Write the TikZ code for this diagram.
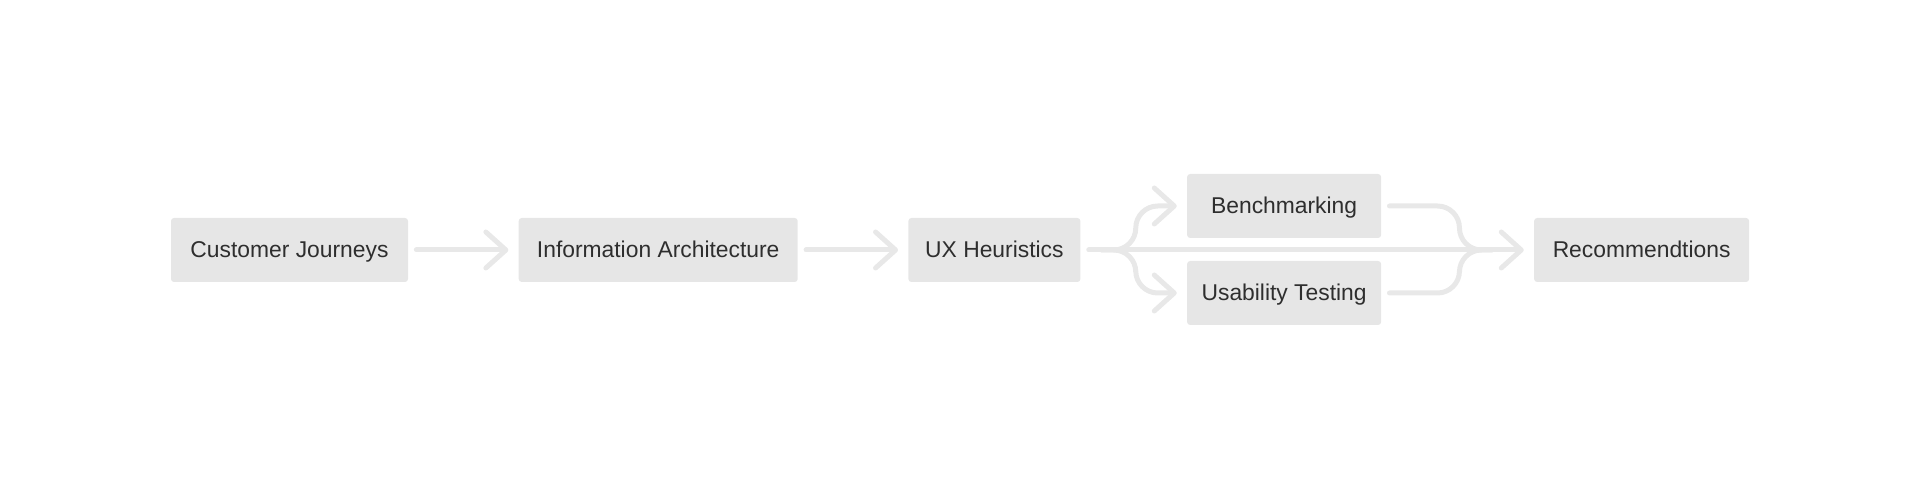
\documentclass[tikz,border=0pt]{standalone}
\usepackage{fontspec}
\setmainfont{Liberation Sans}
\usepackage{tikz}
\usetikzlibrary{arrows.meta, positioning}
\usepackage{xcolor}
\definecolor{boxgray}{HTML}{E6E6E6}
\definecolor{linegray}{HTML}{E8E8E8}
\definecolor{textgray}{HTML}{2E2E2E}

\begin{document}
\begin{tikzpicture}[every node/.style={font=\fontsize{13}{15}\selectfont},
  box/.style={fill=boxgray, rounded corners=0.06cm, text=textgray, minimum height=1.28cm, inner xsep=0pt, text height=0.35cm, text depth=0.06cm},
  link/.style={draw=linegray, line width=0.1cm, line cap=round, line join=round, shorten <=0.16cm},
  arrow/.style={link, -{Straight Barb[length=0.4cm, width=0.72cm, line cap=round, line join=round]}, shorten >=0.2cm}]
\useasboundingbox (0,0) rectangle (38.4,9.96);
\node[box, minimum width=4.74cm] (cj) at (5.79,4.96) {Customer Journeys};
\node[box, minimum width=5.58cm, right=2.2cm of cj] (ia) {Information Architecture};
\node[box, minimum width=3.44cm, right=2.2cm of ia] (ux) {UX Heuristics};
\node[box, minimum width=3.88cm, right=2.12cm of ux, yshift=0.88cm] (bench) {Benchmarking};
\node[box, minimum width=3.88cm, right=2.12cm of ux, yshift=-0.86cm] (usab) {Usability Testing};
\node[box, minimum width=4.3cm, right=9.06cm of ux] (rec) {Recommendtions};
\coordinate[right=0.42cm of ux] (split);
\coordinate[left=0.84cm of rec] (join);
\draw[arrow] (cj) -- (ia);
\draw[arrow] (ia) -- (ux);
\draw[arrow] (ux) -- (rec);
\draw[arrow, rounded corners=0.44cm, shorten <=0pt] (split) -- ++(0.68cm,0) |- (bench);
\draw[arrow, rounded corners=0.44cm, shorten <=0pt] (split) -- ++(0.68cm,0) |- (usab);
\draw[link, rounded corners=0.44cm] (bench.east) -- ++(1.56cm,0) |- (join);
\draw[link, rounded corners=0.44cm] (usab.east) -- ++(1.56cm,0) |- (join);
\end{tikzpicture}
\end{document}
